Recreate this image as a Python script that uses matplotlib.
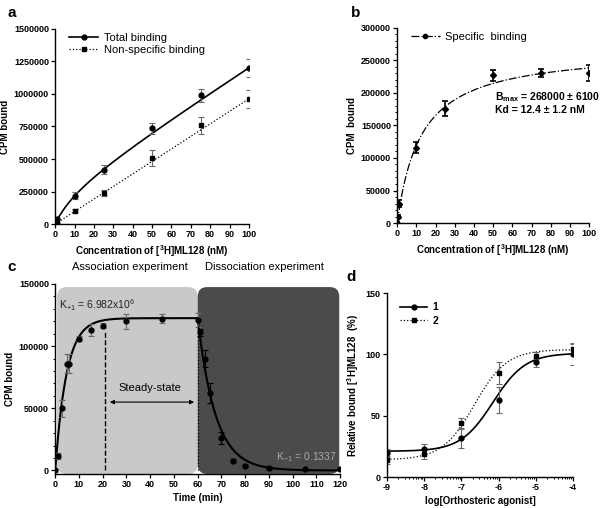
import numpy as np
import matplotlib.pyplot as plt
from matplotlib.lines import Line2D
from matplotlib.patches import FancyBboxPatch
from matplotlib.ticker import MultipleLocator, FixedLocator, FormatStrFormatter

plt.rcParams['font.family'] = 'Liberation Sans'
plt.rcParams['mathtext.fontset'] = 'custom'
plt.rcParams['mathtext.rm'] = 'Liberation Sans'
plt.rcParams['mathtext.bf'] = 'Liberation Sans:bold'
plt.rcParams['mathtext.default'] = 'regular'

# =============================================================================
# Data
# =============================================================================
# --- a: saturation binding ---
conc = [0, 0.5, 1, 10, 25, 50, 75, 100]
total = [5000, 20000, 38000, 218000, 416000, 735000, 990000, 1200000]
total_err = [3000, 5000, 8000, 25000, 35000, 40000, 50000, 67000]
nonspec = [2000, 5000, 10000, 103000, 239000, 506000, 758000, 963000]
nonspec_err = [1000, 2000, 3000, 10000, 20000, 60000, 67000, 68000]

# --- b: specific binding ---
specific = [0, 10000, 30000, 116000, 176000, 227000, 231000, 231000]
specific_err = [1000, 3000, 5000, 8000, 12000, 9000, 6000, 12000]
Bmax = 268000
Kd = 12.4
ns_slope = 9630  # CPM per nM

# --- c: kinetics ---
t_assoc = [0, 1, 3, 5, 6, 10, 15, 20, 30, 45, 60]
b_assoc = [0, 11500, 50000, 86000, 86000, 106000, 113000, 116500, 120000, 122000, 121000]
e_assoc = [1000, 2500, 7000, 8000, 8000, 2000, 5000, 2000, 6000, 3500, 6000]
t_dissoc = [61, 63, 65, 70, 75, 80, 90, 105, 120]
b_dissoc = [111000, 90000, 62000, 26000, 8000, 3500, 2000, 1000, 1500]
e_dissoc = [3000, 7000, 8000, 5000, 1000, 1000, 500, 500, 500]
B_eq = 122500
k_obs = 0.21
k_off = 0.1337

# --- d: concentration response ---
log_ago = [-9, -8, -7, -6, -5, -4]
rel_1 = [19.6, 23, 32, 63, 94, 100]
rel_1_err = [3, 4, 8, 10.5, 4, 9]
rel_2 = [14, 18.5, 44, 85, 99, 104.5]
rel_2_err = [3, 4, 4.5, 9, 3, 4]
fit_1 = (21, 101, -6.15, 1.0)   # bottom, top, logEC50, hill
fit_2 = (14, 104, -6.65, 1.0)

# =============================================================================
# Plotting
# =============================================================================
fig = plt.figure(figsize=(6, 5.08), dpi=100)

ax_a = fig.add_axes([0.092, 0.559, 0.323, 0.384])
ax_b = fig.add_axes([0.662, 0.561, 0.320, 0.384])
ax_c = fig.add_axes([0.092, 0.067, 0.475, 0.374])
ax_d = fig.add_axes([0.645, 0.061, 0.310, 0.362])

tick_kw = dict(labelsize=6.5, direction='out', length=3, width=0.9, pad=1.5)
for ax in (ax_a, ax_b, ax_c, ax_d):
    ax.spines['top'].set_visible(False)
    ax.spines['right'].set_visible(False)
    for s in ('left', 'bottom'):
        ax.spines[s].set_linewidth(1.0)
    ax.tick_params(which='major', **tick_kw)
    ax.tick_params(which='minor', direction='out', length=1.5, width=0.7)

xfit = np.linspace(0, 100, 300)

# --- a ---
ax_a.plot(xfit, Bmax * xfit / (Kd + xfit) + ns_slope * xfit, color='black', lw=1.2)
ax_a.plot(xfit, ns_slope * xfit, color='black', lw=0.9, ls=':')
ax_a.errorbar(conc, total, yerr=total_err, fmt='o', color='black', ms=3.5,
              ecolor='dimgray', elinewidth=0.8, capsize=2.5, capthick=0.8)
ax_a.errorbar(conc, nonspec, yerr=nonspec_err, fmt='s', color='black', ms=3.5,
              ecolor='dimgray', elinewidth=0.8, capsize=2.5, capthick=0.8)
ax_a.set_xlim(0, 100)
ax_a.set_ylim(0, 1500000)
ax_a.xaxis.set_major_locator(MultipleLocator(10))
ax_a.yaxis.set_major_locator(MultipleLocator(250000))
ax_a.yaxis.set_major_formatter(FormatStrFormatter('%d'))
ax_a.set_xlabel('Concentration of [$^{\\mathbf{3}}$H]ML128 (nM)', fontsize=7, fontweight='bold', labelpad=3)
ax_a.set_ylabel('CPM bound', fontsize=7, fontweight='bold', labelpad=3)
h_a = [Line2D([], [], color='black', lw=1.2, marker='o', ms=3.5),
       Line2D([], [], color='black', lw=0.9, ls=':', marker='s', ms=3.5)]
ax_a.legend(h_a, ['Total binding', 'Non-specific binding'], loc='upper left',
            bbox_to_anchor=(0.02, 1.03), frameon=False, fontsize=8,
            handlelength=2.6, handletextpad=0.5, labelspacing=0.2)

# --- b ---
ax_b.plot(xfit, Bmax * xfit / (Kd + xfit), color='black', lw=0.9, ls='-.')
ax_b.errorbar(conc, specific, yerr=specific_err, fmt='D', color='black', ms=3,
              ecolor='black', elinewidth=1.2, capsize=2.5, capthick=1.2)
ax_b.set_xlim(0, 100)
ax_b.set_ylim(0, 300000)
ax_b.xaxis.set_major_locator(MultipleLocator(10))
ax_b.yaxis.set_major_locator(MultipleLocator(50000))
ax_b.yaxis.set_minor_locator(MultipleLocator(10000))
ax_b.yaxis.set_major_formatter(FormatStrFormatter('%d'))
ax_b.set_xlabel('Concentration of [$^{\\mathbf{3}}$H]ML128 (nM)', fontsize=7, fontweight='bold', labelpad=3)
ax_b.set_ylabel('CPM  bound', fontsize=7, fontweight='bold', labelpad=3)
ax_b.legend([Line2D([], [], color='black', lw=0.9, ls='-.', marker='o', ms=3)],
            ['Specific  binding'], loc='upper left', bbox_to_anchor=(0.02, 1.03),
            frameon=False, fontsize=8, handlelength=2.6, handletextpad=0.5)
ax_b.text(51, 194000, 'B$_{\\mathbf{max}}$ = 268000 ± 6100', fontsize=7.5, fontweight='bold',
          va='center')
ax_b.text(51, 174000, 'Kd = 12.4 ± 1.2 nM', fontsize=7.5, fontweight='bold', va='center')

# --- c ---
ax_c.set_xlim(0, 120)
ax_c.set_ylim(-2800, 150000)
asp = 1900
ax_c.add_patch(FancyBboxPatch((0.8, -2800), 59.2, 150300,
                              boxstyle='round,pad=0,rounding_size=4', mutation_aspect=asp,
                              facecolor='#c9c9c9', edgecolor='none', zorder=0))
ax_c.add_patch(FancyBboxPatch((60, -2800), 59.6, 150300,
                              boxstyle='round,pad=0,rounding_size=4', mutation_aspect=asp,
                              facecolor='#4b4b4b', edgecolor='none', zorder=0))
ta = np.linspace(0, 60, 300)
td = np.linspace(60, 120, 300)
ax_c.plot(ta, B_eq * (1 - np.exp(-k_obs * ta)), color='black', lw=1.5)
ax_c.plot(td, B_eq * np.exp(-k_off * (td - 60)), color='black', lw=1.5)
ax_c.errorbar(t_assoc, b_assoc, yerr=e_assoc, fmt='o', color='black', ms=3.5,
              ecolor='dimgray', elinewidth=0.8, capsize=2.5, capthick=0.8)
ax_c.errorbar(t_dissoc, b_dissoc, yerr=e_dissoc, fmt='o', color='black', ms=3.5,
              ecolor='black', elinewidth=0.8, capsize=2.5, capthick=0.8)
ax_c.plot([21, 21], [0, 111000], color='black', lw=1.0, ls='--')
ax_c.plot([60, 60], [0, 121000], color='black', lw=0.9, ls=':')
ax_c.annotate('', xy=(23, 55000), xytext=(58.5, 55000),
              arrowprops=dict(arrowstyle='<|-|>', color='black', lw=0.8,
                              mutation_scale=6, shrinkA=0, shrinkB=0))
ax_c.text(40, 62500, 'Steady-state', fontsize=8, ha='center', va='bottom')
ax_c.text(1.5, 133000, 'K$_{+1}$ = 6.982x10$^{6}$', fontsize=7.5, va='center', color='#222222')
ax_c.text(93, 10500, 'K$_{-1}$ = 0.1337', fontsize=7.5, va='center', color='#a8a8a8')
ax_c.xaxis.set_major_locator(MultipleLocator(10))
ax_c.yaxis.set_major_locator(FixedLocator([0, 50000, 100000, 150000]))
ax_c.yaxis.set_minor_locator(MultipleLocator(10000))
ax_c.yaxis.set_major_formatter(FormatStrFormatter('%d'))
ax_c.set_xlabel('Time (min)', fontsize=7, fontweight='bold', labelpad=3)
ax_c.set_ylabel('CPM bound', fontsize=7, fontweight='bold', labelpad=3)
fig.text(0.217, 0.474, 'Association experiment', fontsize=8, ha='center', va='center')
fig.text(0.44, 0.474, 'Dissociation experiment', fontsize=8, ha='center', va='center')

# --- d ---
def sigmoid(x, p):
    bottom, top, ec50, hill = p
    return bottom + (top - bottom) / (1 + 10 ** ((ec50 - x) * hill))

xd = np.linspace(-9, -4, 300)
ax_d.plot(xd, sigmoid(xd, fit_1), color='black', lw=1.2)
ax_d.plot(xd, sigmoid(xd, fit_2), color='black', lw=0.9, ls=':')
ax_d.errorbar(log_ago, rel_1, yerr=rel_1_err, fmt='o', color='black', ms=3.5,
              ecolor='dimgray', elinewidth=0.8, capsize=2.5, capthick=0.8)
ax_d.errorbar(log_ago, rel_2, yerr=rel_2_err, fmt='s', color='black', ms=3.5,
              ecolor='dimgray', elinewidth=0.8, capsize=2.5, capthick=0.8)
ax_d.set_xlim(-9, -4)
ax_d.set_ylim(0, 150)
ax_d.xaxis.set_major_locator(MultipleLocator(1))
ax_d.xaxis.set_major_formatter(FormatStrFormatter('%d'))
ax_d.xaxis.set_minor_locator(FixedLocator(
    [n + np.log10(k) for n in range(-9, -4) for k in range(2, 10)]))
ax_d.yaxis.set_major_locator(MultipleLocator(50))
ax_d.set_xlabel('log[Orthosteric agonist]', fontsize=7, fontweight='bold', labelpad=3)
ax_d.set_ylabel('Relative bound [$^{\\mathbf{3}}$H]ML128  (%)', fontsize=7, fontweight='bold', labelpad=3)
h_d = [Line2D([], [], color='black', lw=1.2, marker='o', ms=3.5),
       Line2D([], [], color='black', lw=0.9, ls=':', marker='s', ms=3.5)]
leg = ax_d.legend(h_d, ['1', '2'], loc='upper left', bbox_to_anchor=(0.02, 1.0),
                  frameon=False, fontsize=7.5, handlelength=2.6, handletextpad=0.5,
                  labelspacing=0.3)
for txt in leg.get_texts():
    txt.set_fontweight('bold')

for ax in (ax_a, ax_b, ax_c, ax_d):
    for lab in ax.get_xticklabels() + ax.get_yticklabels():
        lab.set_fontweight('bold')

# panel letters
for x, y, s in [(0.012, 0.975, 'a'), (0.585, 0.975, 'b'), (0.012, 0.474, 'c'), (0.578, 0.455, 'd')]:
    fig.text(x, y, s, fontsize=11, fontweight='bold', ha='left', va='center')

fig.savefig('out.png', dpi=100)
